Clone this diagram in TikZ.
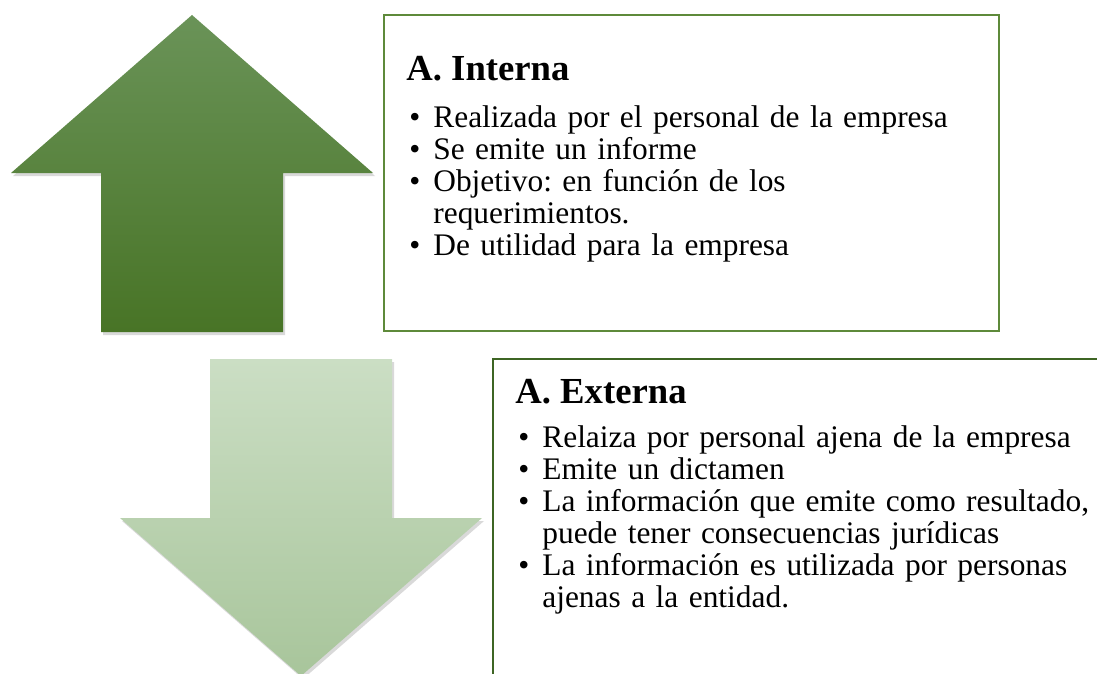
\documentclass[tikz,border=0pt]{standalone}
\usepackage{fontspec}
\setmainfont{Liberation Serif}
\usetikzlibrary{shadows}

\definecolor{upTop}{RGB}{106,147,88}
\definecolor{upBot}{RGB}{72,116,38}
\definecolor{downTop}{RGB}{203,222,196}
\definecolor{downBot}{RGB}{168,197,155}
\definecolor{boxA}{RGB}{94,138,58}
\definecolor{boxB}{RGB}{62,101,36}

\tikzset{every picture/.style={line width=0.75pt}}
\tikzset{
  softshadow/.style={drop shadow={shadow xshift=2pt, shadow yshift=-3pt, opacity=0.25, fill=black!60}},
  headtxt/.style={anchor=base west, inner sep=0pt, font=\fontsize{36.7}{40}\selectfont\bfseries},
  listtxt/.style={anchor=north west, inner sep=0pt, text width=640pt, font=\fontsize{31.4}{32}\selectfont\frenchspacing\raggedright},
}
\newcommand{\itm}[1]{\noindent\hangindent=24pt\hangafter=1\makebox[24pt][l]{\textbullet}#1\par}

\begin{document}
\begin{tikzpicture}[x=1pt,y=1pt,yscale=-1,xscale=1]
\useasboundingbox (0,0) rectangle (1097,674);
\clip (0,0) rectangle (1097,674);

%Shape: Up Arrow [id:interna]
\path [softshadow, top color=upTop, bottom color=upBot] (192,15) -- (373,173) -- (283,173) -- (283,332) -- (101,332) -- (101,173) -- (11,173) -- cycle ;
%Shape: Down Arrow [id:externa]
\path [softshadow, top color=downTop, bottom color=downBot] (210,359) -- (392,359) -- (392,518) -- (482,518) -- (301,676) -- (120,518) -- (210,518) -- cycle ;

%Shape: Rectangle [id:boxinterna]
\draw [color=boxA, line width=1.5] (384,15) rectangle (999,331) ;
%Shape: Rectangle [id:boxexterna]
\draw [color=boxB, line width=2.5] (493,359) rectangle (1110,690) ;

% Text Node
\node [headtxt] (hInterna) at (406,81) {A. Interna};
% Text Node
\node [listtxt] (lInterna) at (409,105) {%
\itm{Realizada por el personal de la empresa}
\itm{Se emite un informe}
\itm{Objetivo: en función de los\newline requerimientos.}
\itm{De utilidad para la empresa}};

% Text Node
\node [headtxt] (hExterna) at (515,403) {A. Externa};
% Text Node
\node [listtxt] (lExterna) at (518,425) {%
\itm{Relaiza por personal ajena de la empresa}
\itm{Emite un dictamen}
\itm{La información que emite como resultado,\newline puede tener consecuencias jurídicas}
\itm{La información es utilizada por personas\newline ajenas a la entidad.}};

\end{tikzpicture}
\end{document}
